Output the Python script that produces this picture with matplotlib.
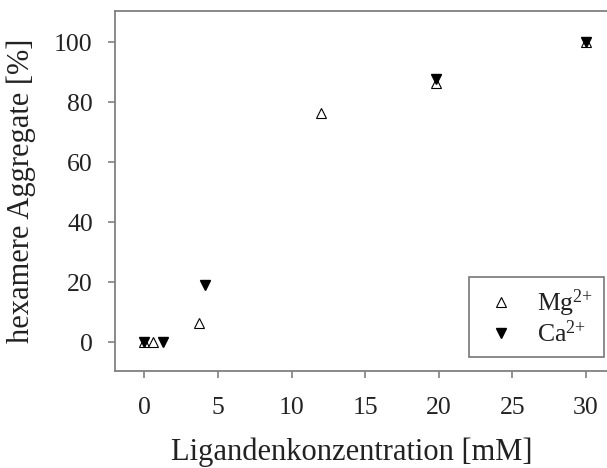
import matplotlib
matplotlib.use("Agg")
import matplotlib.pyplot as plt

# Ligandenkonzentration [mM] vs. Anteil hexamerer Aggregate [%]
mg_x = [0, 0.6, 3.7, 12.0, 19.8, 30]
mg_y = [0, 0, 6.3, 76.3, 86.3, 100]
ca_x = [0, 1.25, 4.1, 19.8, 30]
ca_y = [0, 0, 19, 87.7, 100]

xticks = [0, 5, 10, 15, 20, 25, 30]
yticks = [0, 20, 40, 60, 80, 100]

plt.rcParams['font.family'] = ['Liberation Serif', 'DejaVu Serif']
plt.rcParams['mathtext.fontset'] = 'custom'
plt.rcParams['mathtext.rm'] = 'Liberation Serif'
plt.rcParams['mathtext.default'] = 'regular'

textcol = '#222222'
linecol = '#808080'

W, H = 607, 468
fig = plt.figure(figsize=(W / 100, H / 100), dpi=100)
ax = fig.add_axes([115 / W, 1 - 371 / H, 1 - 115 / W, (371 - 11.5) / H])

ax.plot(mg_x, mg_y, linestyle='none', marker='^', markersize=6.5,
        markerfacecolor='white', markeredgecolor='black', markeredgewidth=0.8,
        label='Mg$^{2{+}}$', zorder=2)
ax.plot(ca_x, ca_y, linestyle='none', marker='v', markersize=7,
        markerfacecolor='black', markeredgecolor='black',
        label='Ca$^{2{+}}$', zorder=3)

ax.set_xlim(-2, 31.43)
ax.set_ylim(-9.6, 110.2)
ax.set_xticks(xticks)
ax.set_yticks(yticks)

for side in ['left', 'bottom', 'top']:
    ax.spines[side].set_color(linecol)
    ax.spines[side].set_linewidth(1.3)
ax.spines['right'].set_visible(False)

ax.tick_params(direction='out', length=5, width=1.2, color=linecol,
               labelsize=18.5, labelcolor=textcol)
ax.tick_params(axis='y', pad=11)
ax.tick_params(axis='x', pad=14)

ax.set_xlabel('Ligandenkonzentration [mM]', fontsize=22, color=textcol)
ax.set_ylabel('hexamere Aggregate [%]', fontsize=22, color=textcol, labelpad=13)
ax.xaxis.set_label_coords(0.482, -0.185)

leg = ax.legend(loc='upper left', bbox_to_anchor=(469 / W, 1 - 277 / H),
                bbox_transform=fig.transFigure, fontsize=18.5,
                frameon=True, fancybox=False, borderpad=0.4,
                handlelength=1.7, handletextpad=0.55, labelspacing=0.05,
                borderaxespad=0)
leg.get_frame().set_edgecolor('#555555')
leg.get_frame().set_linewidth(1.2)
for t in leg.get_texts():
    t.set_color(textcol)

fig.savefig('out.png', dpi=100)
